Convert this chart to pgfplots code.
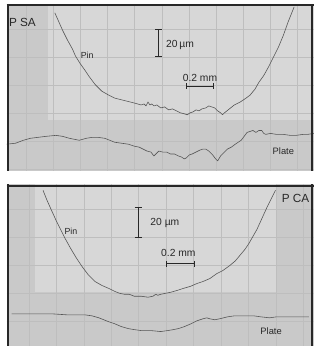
\documentclass[border=0pt]{standalone}
\usepackage{pgfplots}
\pgfplotsset{compat=1.18}
\usepackage{fontspec}
\setmainfont{Liberation Sans}
\definecolor{paperdark}{RGB}{201,201,201}
\definecolor{paperlight}{RGB}{215,215,215}
\definecolor{gridc}{RGB}{190,190,190}
\definecolor{trace}{RGB}{85,85,85}
\definecolor{framec}{RGB}{40,40,40}
\pgfplotsset{
  panel/.style={
    scale only axis, y dir=reverse, set layers,
    axis background/.style={fill=paperdark},
    axis line style={draw=none},
    major tick length=0pt,
    xticklabels={}, yticklabels={},
    grid=major, major grid style={draw=gridc, line width=0.4pt},
  },
  tr/.style={trace, line width=0.6pt, line join=round, no markers},
}
\begin{document}
\begin{tikzpicture}[x=1pt,y=1pt]
\path (0,0) rectangle (318,-353);
% ---------------- top panel: P SA ----------------
\begin{axis}[panel, at={(3pt,-4pt)}, anchor=north west,
  width=313pt, height=170pt, xmin=3, xmax=316, ymin=4, ymax=174,
  xtick={22.6,50.3,78,105.7,133.4,161.1,188.8,216.5,244.2,271.9,299.6},
  ytick={30,58.5,87,115.5,144,172.5}]
\begin{pgfonlayer}{axis background}
\fill[paperlight] (axis cs:45,4) rectangle (axis cs:316,122);
\end{pgfonlayer}
% Pin
\addplot[tr] coordinates {
(52,13) (56,22) (60,31) (65,41) (70,50) (73,57) (78,65) (83,72) (87,78)
(93,86) (100,93) (107,97) (113,100) (117,101) (125,103) (133,105) (140,107)
(143,106) (145,108) (147,104) (149,107) (151,106) (153,108) (156,107)
(160,110) (164,109) (168,112) (172,111) (176,113) (180,115) (184,116)
(187,117) (190,115) (193,114) (196,112) (199,113) (202,111) (206,110)
(209,108) (212,109) (215,110) (218,113) (221,115) (223,117) (225,115)
(230,111) (235,107) (241,104) (247,100) (251,97) (256,91) (260,84) (265,77)
(270,68) (275,58) (280,48) (285,36) (290,22) (296,7)};
% Plate
\addplot[tr] coordinates {
(3,147) (12,146) (20,143) (27,141) (35,140) (43,139) (53,138) (60,139)
(67,141) (72,142) (77,143) (84,141) (90,140) (96,140) (103,141) (108,143)
(113,145) (120,146) (127,147) (133,149) (138,150) (142,152) (146,154)
(150,155) (153,159) (156,156) (158,154) (162,155) (166,155) (170,157)
(174,157) (178,159) (181,160) (184,162) (186,161) (189,158) (192,157)
(196,155) (200,153) (203,152) (206,152) (209,154) (213,158) (216,162)
(218,164) (221,159) (224,156) (228,152) (232,150) (236,147) (239,145)
(242,143) (245,139) (248,135) (251,134) (254,133) (257,135) (260,133)
(263,133) (265,136) (267,137) (272,136) (278,137) (285,137) (292,138)
(298,138) (305,137) (310,137) (316,136)};
% scale bars
\draw[framec, line width=1pt] (axis cs:158,30) -- (axis cs:158,58);
\draw[framec, line width=1pt] (axis cs:154.5,30) -- (axis cs:161.5,30);
\draw[framec, line width=1pt] (axis cs:154.5,58) -- (axis cs:161.5,58);
\draw[framec, line width=1pt] (axis cs:186,88) -- (axis cs:214,88);
\draw[framec, line width=1pt] (axis cs:186,85) -- (axis cs:186,91);
\draw[framec, line width=1pt] (axis cs:214,85) -- (axis cs:214,91);
% frame
\draw[framec, line width=2pt] (axis cs:4.5,4) -- (axis cs:4.5,174);
\draw[framec, line width=2pt] (axis cs:3,5.2) -- (axis cs:316,5.2);
\draw[framec, line width=2pt] (axis cs:314.5,4) -- (axis cs:314.5,174);
\node[font=\fontsize{12}{12}\selectfont, text=framec] at (axis cs:19,23) {P SA};
\node[font=\fontsize{9}{9}\selectfont, text=framec] at (axis cs:85,56.5) {Pin};
\node[font=\fontsize{10.5}{10.5}\selectfont, text=framec, anchor=west] at (axis cs:162,46) {20\,µm};
\node[font=\fontsize{10.5}{10.5}\selectfont, text=framec] at (axis cs:200,79) {0.2 mm};
\node[font=\fontsize{9.5}{9.5}\selectfont, text=framec] at (axis cs:285,154) {Plate};
\end{axis}
% ---------------- bottom panel: P CA ----------------
\begin{axis}[panel, at={(3pt,-188pt)}, anchor=north west,
  width=313pt, height=165pt, xmin=3, xmax=316, ymin=188, ymax=353,
  xtick={25.5,53.5,81.5,109.5,137.5,165.5,193.5,221.5,249.5,277.5,305.5},
  ytick={213,241.5,270,298.5,327}]
\begin{pgfonlayer}{axis background}
\fill[paperlight] (axis cs:32,188) rectangle (axis cs:277,298);
\end{pgfonlayer}
% Pin
\addplot[tr] coordinates {
(40,194) (44,204) (48,213) (53,224) (58,234) (63,244) (68,253) (74,263)
(80,272) (86,280) (93,287) (100,291) (107,294) (113,297) (118,299)
(123,300) (128,300) (133,302) (140,302) (147,303) (152,302) (155,300)
(157,301) (160,300) (165,299) (170,298) (177,296) (183,294) (190,292)
(197,289) (203,287) (210,284) (217,279) (223,276) (230,271) (236,266)
(241,260) (246,254) (250,248) (254,241) (258,234) (263,223) (268,212)
(272,204) (277,194)};
% Plate
\addplot[tr] coordinates {
(8,320) (20,320) (33,320) (50,320) (65,321) (83,321) (90,322) (97,324)
(102,326) (107,328) (113,330) (120,333) (127,335) (133,336) (140,337)
(150,337) (160,338) (167,337) (173,336) (178,335) (184,333) (191,330)
(197,327) (203,325) (207,324) (210,325) (215,326) (220,325) (228,323)
(235,322) (245,322) (255,322) (262,323) (271,324) (278,323) (285,323)
(293,323) (301,323) (311,323)};
\draw[framec, line width=1pt] (axis cs:137,212) -- (axis cs:137,242);
\draw[framec, line width=1pt] (axis cs:133.5,212) -- (axis cs:140.5,212);
\draw[framec, line width=1pt] (axis cs:133.5,242) -- (axis cs:140.5,242);
\draw[framec, line width=1pt] (axis cs:166,269) -- (axis cs:194,269);
\draw[framec, line width=1pt] (axis cs:166,266) -- (axis cs:166,272);
\draw[framec, line width=1pt] (axis cs:194,266) -- (axis cs:194,272);
% frame
\draw[framec, line width=2pt] (axis cs:4.5,188) -- (axis cs:4.5,353);
\draw[framec, line width=2pt] (axis cs:3,189.2) -- (axis cs:316,189.2);
\draw[framec, line width=2pt] (axis cs:314.5,188) -- (axis cs:314.5,353);
\node[font=\fontsize{12}{12}\selectfont, text=framec] at (axis cs:297.5,202) {P CA};
\node[font=\fontsize{9}{9}\selectfont, text=framec] at (axis cs:68.5,236) {Pin};
\node[font=\fontsize{10.5}{10.5}\selectfont, text=framec, anchor=west] at (axis cs:146,227) {20 µm};
\node[font=\fontsize{10.5}{10.5}\selectfont, text=framec] at (axis cs:178,258) {0.2 mm};
\node[font=\fontsize{9.5}{9.5}\selectfont, text=framec] at (axis cs:272.5,338) {Plate};
\end{axis}
\end{tikzpicture}
\end{document}
